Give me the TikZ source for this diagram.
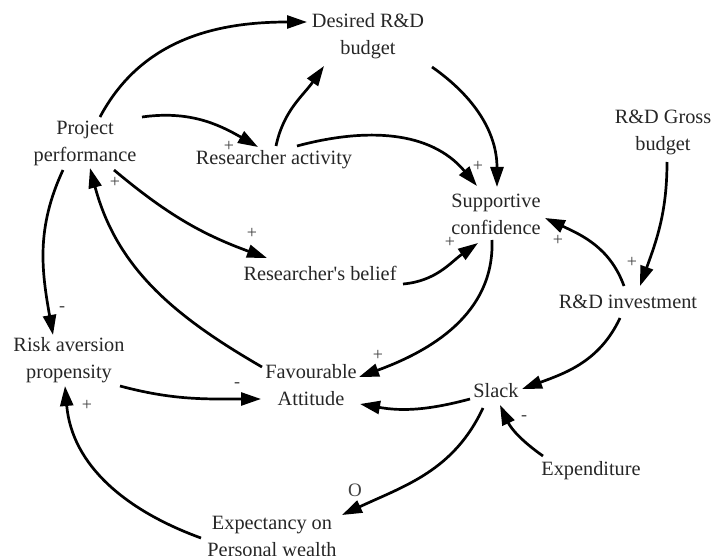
\documentclass[tikz,border=0pt]{standalone}
\usepackage{fontspec}
\setmainfont{Liberation Serif}[Ligatures=TeXOff]
\usetikzlibrary{arrows.meta}
\begin{document}
\begin{tikzpicture}[x=1pt,y=1pt,
  lbl/.style={font=\fontsize{20.3}{27}\selectfont, align=center, inner sep=1pt, text=black!85},
  sign/.style={font=\fontsize{18}{18}\selectfont, inner sep=0pt, text=black!75},
  link/.style={line width=2.7pt, -{Triangle[length=20pt,width=13pt]}}
]
\useasboundingbox (0,0) rectangle (715,-556);

% variables
\node[lbl] (pp)  at (85,-143)  {Project\\performance};
\node[lbl] (drb) at (368,-36)  {Desired R\&D\\budget};
\node[lbl] (ra)  at (274,-160) {Researcher activity};
\node[lbl] (sc)  at (496,-214) {Supportive\\confidence};
\node[lbl] (gb)  at (663,-132) {R\&D Gross\\budget};
\node[lbl] (rb)  at (320,-273) {Researcher's belief};
\node[lbl] (inv) at (628,-302) {R\&D investment};
\node[lbl] (rap) at (69,-360)  {Risk aversion\\propensity};
\node[lbl] (fa)  at (311,-385) {Favourable\\Attitude};
\node[lbl] (sl)  at (496,-391) {Slack};
\node[lbl] (ex)  at (591,-471) {Expenditure};
\node[lbl] (ep)  at (272,-536) {Expectancy on\\Personal wealth};

% causal links
\draw[link] ([shift={(15,26)}]pp.center)  to[out=62,in=180] ([shift={(-61,14)}]drb.center);
\draw[link] ([shift={(57,26)}]pp.center)  to[out=8,in=150]  ([shift={(-16,13)}]ra.center);
\draw[link] ([shift={(2,14)}]ra.center)   to[out=78,in=235] ([shift={(-44,-30)}]drb.center);
\draw[link] ([shift={(23,14)}]ra.center)  to[out=15,in=130] ([shift={(-19,28)}]sc.center);
\draw[link] ([shift={(64,-31)}]drb.center) to[out=-35,in=90] ([shift={(1,27)}]sc.center);
\draw[link] ([shift={(4,-30)}]gb.center)  to[out=-90,in=70] ([shift={(12,16)}]inv.center);
\draw[link] ([shift={(-4,16)}]inv.center) to[out=110,in=-25] ([shift={(49,-4)}]sc.center);
\draw[link] ([shift={(83,-11)}]rb.center) to[out=5,in=215]  ([shift={(-18,-29)}]sc.center);
\draw[link] ([shift={(-4,-26)}]sc.center) to[out=-88,in=20] ([shift={(48,8)}]fa.center);
\draw[link] ([shift={(29,-27)}]pp.center) to[out=-40,in=160] ([shift={(-53,15)}]rb.center);
\draw[link] ([shift={(-49,18)}]fa.center) to[out=150,in=-75] ([shift={(5,-25)}]pp.center);
\draw[link] ([shift={(-22,-27)}]pp.center) to[out=-115,in=100] ([shift={(-16,25)}]rap.center);
\draw[link] ([shift={(51,-26)}]rap.center) to[out=-15,in=180] ([shift={(-50,-14)}]fa.center);
\draw[link] ([shift={(-71,-2)}]ep.center) to[out=160,in=-85] ([shift={(-4,-26)}]rap.center);
\draw[link] ([shift={(-26,-8)}]sl.center) to[out=195,in=-10] ([shift={(49,-19)}]fa.center);
\draw[link] ([shift={(-8,-16)}]inv.center) to[out=-115,in=20] ([shift={(26,2)}]sl.center);
\draw[link] ([shift={(-48,15)}]ex.center) to[out=145,in=-65] ([shift={(4,-14)}]sl.center);
\draw[link] ([shift={(-13,-17)}]sl.center) to[out=-115,in=25] ([shift={(70,21)}]ep.center);

% link polarities
\node[sign] (p1)  at (229,-146) {+};
\node[sign] (p2)  at (478,-166) {+};
\node[sign] (p3)  at (632,-262) {+};
\node[sign] (p4)  at (558,-240) {+};
\node[sign] (p5)  at (450,-242) {+};
\node[sign] (p6)  at (378,-355) {+};
\node[sign] (p7)  at (252,-233) {+};
\node[sign] (p8)  at (115,-182) {+};
\node[sign] (m1)  at (62,-309)  {-};
\node[sign] (m2)  at (237,-385) {-};
\node[sign] (p9)  at (87,-405)  {+};
\node[sign] (m3)  at (524,-418) {-};
\node[sign,font=\fontsize{19}{19}\selectfont] (o1) at (355,-490) {O};
\end{tikzpicture}
\end{document}
